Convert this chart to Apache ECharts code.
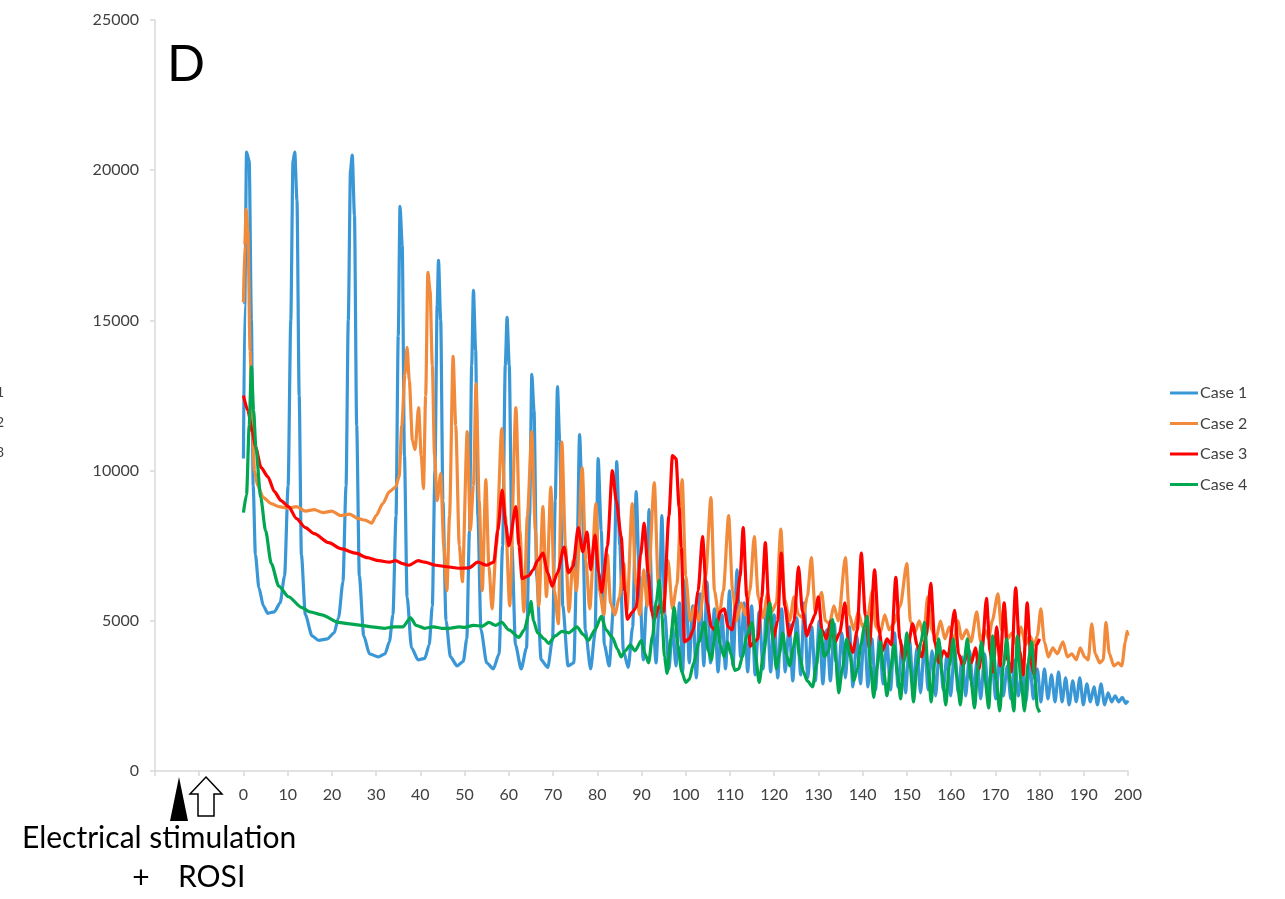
<!DOCTYPE html>
<html><head><meta charset="utf-8">
<script src="https://cdn.jsdelivr.net/npm/echarts@6/dist/echarts.min.js"></script>
<style>html,body{margin:0;padding:0;background:#fff}#c{width:1285px;height:899px}</style>
</head><body><div id="c"></div>
<script>
const seriesNames = ['Case 1','Case 2','Case 3','Case 4'];
const seriesColors = ['#3a97d6','#f28a3c','#ff0000','#00a650'];
const yTicks = [0,5000,10000,15000,20000,25000];
const xTickLabels = [0,10,20,30,40,50,60,70,80,90,100,110,120,130,140,150,160,170,180,190,200];

const case1 = [
[0,10400],[0.3,15500],[0.7,20600],[1.3,20300],[1.8,15000],[2.2,9500],[2.7,7200],[3.5,6100],[4.5,5500],[5.5,5250],[7,5300],[8.3,5600],[9.3,6500],[10.1,9500],[10.7,15000],[11.2,20300],[11.6,20600],[12.1,19000],[12.6,12500],[13.1,7200],[14,5200],[15.5,4500],[17,4350],[19,4400],[20.5,4600],[21.5,5100],[22.5,6300],[23.2,9500],[23.7,15000],[24.2,20000],[24.6,20500],[25.1,18500],[25.6,11500],[26.2,6500],[27.2,4500],[28.5,3900],[30.5,3800],[32,3900],[33,4300],[33.8,5200],[34.5,8500],[35,14500],[35.4,18800],[35.9,17500],[36.4,10500],[37,5800],[38,4100],[39.5,3700],[41,3750],[42,4200],[42.7,5500],[43.3,10000],[43.8,15500],[44.1,17000],[44.6,15000],[45.1,9000],[45.8,5000],[46.8,3800],[48.3,3500],[49.7,3650],[50.5,4400],[51.1,8000],[51.6,13500],[52,16000],[52.5,14000],[53,8500],[53.7,4700],[55,3600],[56.5,3400],[57.8,3900],[58.6,7500],[59.2,13500],[59.6,15100],[60.1,13500],[60.7,7500],[61.5,4200],[62.8,3400],[64,4100],[64.7,8500],[65.2,13200],[65.7,12000],[66.3,6500],[67.3,3700],[68.8,3450],[69.9,4400],[70.5,9000],[71,12800],[71.5,11000],[72.2,5500],[73.4,3500],[74.7,3600],[75.4,7000],[76,11200],[76.6,9000],[77.3,4700],[78.5,3400],[79.5,4600],[80.2,10400],[80.9,8000],[81.6,4200],[82.7,3500],[83.7,5500],[84.4,10300],[85.1,7500],[85.9,4000],[87,3450],[88,4800],[88.8,9300],[89.5,6500],[90.4,3700],[91.1,5500],[91.7,8700],[92.4,5500],[93.3,3600],[94,5500],[94.6,8500],[95.3,5200],[96.2,3400],
[97,4800],[97.8,3500],[98.6,5600],[99.3,3300],[100,6400],[100.8,3600],[101.6,5500],[102.4,3100],[103.3,5900],[104.1,3500],[104.8,6300],[105.6,3600],[106.5,5400],[107.3,3300],[108.2,5200],[109,3400],[109.9,6000],[110.7,3500],[111.6,6700],[112.4,3800],[113.2,5600],[114,3300],[114.9,5500],[115.7,3200],[116.6,5300],[117.5,3400],[118.3,5700],[119.2,3300],[120,5200],[120.8,3100],[121.7,5400],[122.5,3300],[123.4,4900],[124.2,3000],[125.1,5100],[126,3200],[126.8,5600],[127.6,3100],[128.5,4800],[129.3,3000],[130.2,5000],[131,2900],[131.9,4700],[132.7,3000],[133.6,4900],[134.4,2900],[135.3,4600],[136.1,3100],[137,4800],[137.8,2800],[138.7,4500],[139.5,2900],[140.4,4700],[141.2,2800],[142.1,4400],[142.9,2700],[143.8,4500],[144.6,2900],[145.5,4300],[146.3,2700],[147.2,4600],[148,2800],[148.9,4200],[149.7,2600],[150.6,4400],[151.4,2800],[152.3,4100],[153.1,2600],[154,4300],[154.8,2700],[155.7,4000],[156.5,2500],[157.4,4200],[158.2,2700],[159.1,3900],[159.9,2500],[160.8,4100],[161.6,2600],[162.5,3800],[163.3,2500],[164.2,4000],[165,2600],[165.9,3700],[166.7,2400],[167.6,3900],[168.4,2600],[169.3,3600],[170.1,2400],[171,3800],[171.8,2500],[172.7,3500],[173.5,2400],[174.4,3700],[175.2,2500],[176.1,3400],[176.9,2300],[177.8,3600],[178.6,2400],[179.5,3400],[180.3,2300],[181.1,3400],[181.9,2400],[182.7,3200],[183.5,2300],[184.3,3300],[185.1,2300],[185.9,3100],[186.7,2200],[187.5,3000],[188.3,2300],[189.1,3100],[189.9,2200],[190.7,2900],[191.5,2300],[192.3,2800],[193.1,2200],[193.9,2900],[194.7,2200],[195.5,2600],[196.3,2300],[197.1,2500],[197.9,2300],[198.7,2450],[199.5,2250],[200,2350]
];

const case2 = [
[0,15600],[0.3,17500],[0.6,18700],[1,18000],[1.5,14000],[2,11500],[2.5,10000],[3.2,9500],[4.5,9100],[6.3,8900],[8,8800],[10,8750],[12,8800],[14,8650],[16,8700],[18,8600],[20,8650],[22,8500],[24,8550],[26,8400],[27.5,8350],[29,8250],[30,8500],[31.5,8900],[33,9300],[34.4,9450],[35.2,9800],[35.8,11500],[36.5,13200],[37,14100],[37.5,13000],[38.2,11000],[38.8,10700],[39.6,12100],[40.2,10500],[40.7,9400],[41.2,12500],[41.7,16600],[42.2,16000],[42.7,13500],[43.2,10500],[43.8,9000],[44.6,9900],[45.3,7500],[46,6000],[46.6,8500],[47.4,13800],[48,11500],[48.8,7500],[49.5,6300],[50.6,11300],[51.3,8000],[52,9500],[52.6,12900],[53.3,9000],[54,6000],[54.8,9700],[55.5,6800],[56.2,5400],[57.2,7500],[58.4,11400],[59.2,8500],[60.2,5500],[61.6,12100],[62.5,8000],[63.4,5300],[64.2,8500],[65.2,11300],[66,8000],[66.8,5500],[67.7,8800],[68.5,5800],[69.5,9450],[70.3,6000],[71.2,4900],[72,10950],[72.8,7500],[73.6,5300],[74.5,7000],[75.3,6000],[76.6,10100],[77.4,7000],[78.3,5400],[79.7,8900],[80.5,6000],[81.5,5200],[82.3,7200],[83,5600],[84,5200],[85,5800],[86,6900],[86.7,5300],[87.9,8900],[88.7,6200],[89.6,5200],[90.5,6700],[91.3,5500],[92.9,9600],[93.8,6200],[94.8,5200],[96,7000],[97,5400],[98,6200],[99.2,9700],[100,6500],[101,5000],[102,5500],[103,5000],[104.5,6500],[105.7,9100],[106.5,6000],[107.5,5100],[108.5,6000],[109.7,8500],[110.6,6000],[111.5,5000],[112.5,5600],[113.5,5200],[114.5,6000],[115.5,7800],[116.4,5800],[117.5,5100],[118.5,5900],[119.5,5300],[120.5,5600],[121.5,8050],[122.4,5700],[123.5,5000],[124.5,5800],[125.5,5200],[126.5,5100],[127.5,5800],[128.4,7100],[129.3,5300],[130.7,5950],[131.6,5000],[132.5,4900],[133.5,5500],[134.5,5000],[136.1,7100],[137,5200],[138,4700],[139,5300],[140,4800],[141,5000],[142.2,6000],[143,4800],[144,4600],[145,5200],[146,4700],[147,4900],[148.5,5500],[150,6900],[150.8,5000],[151.8,4600],[152.8,5000],[153.8,4500],[154.7,5800],[155.6,4700],[156.6,4400],[157.6,5000],[158.6,4400],[159.6,4800],[160.6,4300],[161.5,5000],[162.4,4400],[163.5,4700],[164.5,4300],[165.8,5300],[166.7,4300],[167.6,4700],[168.5,4400],[169.3,5000],[170.6,5900],[171.4,4700],[172,5500],[172.8,4400],[173.8,4600],[174.8,4200],[175.8,4800],[176.8,4200],[177.8,4500],[178.8,4200],[179.5,4500],[180.3,5400],[181.1,4300],[182,3800],[183,4100],[184,3900],[185.3,4300],[186.3,3800],[187.3,3900],[188.3,3700],[189.2,4100],[190.2,3800],[191,3700],[191.8,4900],[192.6,3900],[193.6,3600],[194.4,3700],[195,4950],[195.8,3900],[196.8,3500],[197.8,3600],[198.6,3500],[199.4,4300],[199.8,4650],[200,4500]
];

const case3 = [
[0,12500],[1,12000],[2,11300],[2.7,10800],[4,10100],[5.5,9800],[7,9300],[8.5,9000],[10.2,8800],[12,8400],[14,8100],[16,7900],[19.3,7600],[22,7400],[25.4,7250],[28,7100],[30.6,7000],[33,6950],[34.4,7000],[36,6900],[37.4,6850],[39.5,7000],[41,6950],[43.5,6850],[46,6800],[48.7,6750],[51,6760],[53,6950],[55,6850],[56.6,6950],[57.5,8000],[58.5,9350],[59.3,8200],[60,7500],[61.6,8800],[62.3,7500],[63,6400],[64.5,6500],[65.5,6700],[66.5,7000],[67.7,7250],[68.8,6600],[69.8,6150],[71,6600],[72.5,7450],[73.5,6600],[74.5,6800],[75.7,8100],[76.7,7300],[77.7,7950],[78.5,6700],[79.5,7850],[80.3,6600],[81,5950],[82.3,7500],[83.4,10000],[84.3,9000],[85.4,7800],[86.2,6000],[86.8,5050],[88,5300],[88.8,5450],[89.8,7200],[90.6,8250],[91.5,6600],[92.3,5300],[92.9,5050],[94,5500],[95,5300],[96.2,8500],[97,10500],[97.8,10400],[98.5,8800],[99,7450],[99.7,4300],[100.8,4400],[101.7,4700],[102.8,6000],[103.8,7800],[104.8,5600],[105.8,4800],[106.8,4650],[107.8,5300],[108.7,5400],[109.6,4800],[110.5,4700],[111.5,5600],[112.3,6500],[113,8100],[113.8,5800],[114.6,4150],[115.5,4300],[116.3,4400],[117.2,5800],[118,7600],[118.8,5500],[119.8,4400],[120.8,5000],[121.6,7250],[122.4,5500],[123.4,4500],[124.5,5000],[125.5,6800],[126.4,5300],[127.4,4500],[128.3,4900],[129.2,5200],[130,5800],[130.8,4700],[131.8,4400],[132.8,5000],[133.8,4300],[134.8,4600],[136,5600],[136.8,4300],[137.8,3950],[138.8,4700],[139.7,7250],[140.6,5200],[141.5,4100],[142.7,6700],[143.6,4800],[144.5,4000],[145.5,4400],[146.5,4200],[147.5,6450],[148.4,4400],[149.3,3700],[150.3,4200],[151.3,4900],[152.3,4200],[153.3,3800],[154.4,4500],[155.4,6250],[156.3,4300],[157.3,3600],[158.3,4000],[159.3,3800],[160.8,5350],[161.7,3900],[162.7,3500],[163.7,3900],[164.6,3600],[165.5,4100],[166.3,3400],[167,4000],[168,5750],[168.8,4000],[169.5,3300],[170.3,4800],[171.1,3500],[172,5600],[172.8,3700],[173.6,3300],[174.6,6100],[175.5,4000],[176.3,3200],[177.2,5600],[178.1,3600],[178.8,3200],[179.3,4200],[180,4400]
];

const case4 = [
[0,8600],[0.7,9200],[1.3,11500],[1.8,13450],[2.3,12000],[2.8,10800],[3.9,9100],[5,8000],[6.3,6900],[8,6150],[10.2,5800],[13.1,5450],[15,5300],[17.7,5200],[21.5,4950],[24,4900],[26.7,4850],[29,4800],[32,4750],[34,4800],[36,4800],[37.8,5100],[39,4850],[41,4750],[43,4800],[44.8,4750],[46.5,4750],[48.7,4800],[50,4780],[52,4850],[54,4820],[55.5,4950],[57,4850],[58.4,4950],[60,4700],[62.3,4450],[63.5,4700],[64.5,5200],[65,5650],[65.6,5000],[66.5,4600],[68,4400],[69,4250],[70.5,4500],[72,4650],[73.5,4600],[75.4,4800],[76.8,4550],[78,4350],[79.5,4700],[80.9,5150],[82,4700],[83.4,4450],[84.6,4050],[85.4,3800],[86.3,4000],[87.5,4200],[88.5,4000],[90,4350],[90.8,3900],[91.6,3600],[92.5,4500],[93.4,5700],[94,6350],[94.6,5200],[95.2,3800],[95.8,3250],[96.6,4400],[97.4,5450],[98.2,4200],[99.1,3300],[100,2950],[100.8,3050],[101.8,3600],[103,4300],[104.2,4950],[105.1,4000],[105.8,3700],[106.4,4300],[107,5050],[107.8,4200],[108.7,3800],[109.5,4300],[110.2,3900],[111.1,3350],[112,3400],[112.8,3800],[113.8,4500],[115,4950],[115.8,3800],[116.6,2950],[117.6,3900],[119,5600],[119.8,4300],[120.5,3400],[121.2,3900],[121.9,4600],[122.7,3900],[123.5,3500],[124.3,4100],[125,4600],[125.8,3800],[126.6,3300],[127.5,3000],[128.7,2800],[129.5,3500],[130.5,4700],[131.3,3800],[132.3,4000],[133.2,5050],[134,3600],[134.6,2600],[135.4,3400],[136.4,4400],[137.2,3800],[138,3000],[138.8,3400],[139.6,4200],[140.4,4800],[141,5150],[141.8,3500],[142.5,2450],[143.2,3400],[144,4300],[144.8,3300],[145.5,2500],[146.3,3400],[147.1,4200],[147.9,3200],[148.6,2400],[149.3,3600],[150,4600],[150.8,3400],[151.5,2300],[152.3,3500],[153.2,4300],[154,4950],[154.8,3400],[155.5,2300],[156.3,3600],[157.2,4400],[158,3200],[158.8,2200],[159.6,3500],[160.5,4400],[161.3,3100],[162.1,2200],[162.9,3600],[163.7,4400],[164.5,3000],[165.3,2100],[166.1,3500],[166.9,4300],[167.7,3000],[168.5,2100],[169.4,4500],[170.2,3000],[171,2000],[171.8,3500],[172.6,4400],[173.4,2900],[174.2,2000],[175,4500],[175.8,3000],[176.6,2000],[177.4,3600],[178.2,4300],[179,3000],[179.5,2100],[180,1950]
];

const allData = [case1, case2, case3, case4];
const FONT = 'Lato';

const chart = echarts.init(document.getElementById('c'), null, {renderer:'canvas'});
chart.setOption({
  animation: false,
  backgroundColor: '#ffffff',
  grid: {left: 155, right: 157, top: 20, bottom: 128, containLabel: false},
  xAxis: {
    type: 'value', min: -20, max: 200, interval: 10,
    axisLine: {show: true, onZero: false, lineStyle: {color: '#d9d9d9', width: 1.5}},
    axisTick: {show: true, length: 5, lineStyle: {color: '#d9d9d9', width: 1.5}},
    splitLine: {show: false},
    axisLabel: {
      margin: 16, color: '#404040', fontFamily: FONT, fontSize: 16,
      formatter: v => (xTickLabels.indexOf(v) >= 0 ? String(v) : '')
    }
  },
  yAxis: {
    type: 'value', min: yTicks[0], max: yTicks[yTicks.length-1], interval: 5000,
    axisLine: {show: true, onZero: false, lineStyle: {color: '#d9d9d9', width: 1.5}},
    axisTick: {show: true, length: 5, lineStyle: {color: '#d9d9d9', width: 1.5}},
    splitLine: {show: false},
    axisLabel: {margin: 16, color: '#404040', fontFamily: FONT, fontSize: 16, formatter: v => String(v)}
  },
  legend: {
    orient: 'vertical', left: 1170, top: 385, padding: 0,
    itemWidth: 28, itemHeight: 3, itemGap: 14.5,
    icon: 'rect',
    textStyle: {fontFamily: FONT, fontSize: 16, color: '#404040', padding: [0,0,0,-3]},
    data: seriesNames
  },
  series: allData.map((d, i) => ({
    name: seriesNames[i], type: 'line', data: d,
    showSymbol: false, symbol: 'none',
    smooth: 0.25, smoothMonotone: 'x',
    lineStyle: {color: seriesColors[i], width: 3.2},
    itemStyle: {color: seriesColors[i]},
    z: 2 + i
  })),
  graphic: [
    {type: 'text', left: 167, top: 40, style: {text: 'D', font: '50px ' + FONT, fill: '#000'}},
    {type: 'text', x: 4, y: 392, style: {text: '1', font: '14px ' + FONT, fill: '#404040', textAlign: 'right', textVerticalAlign: 'middle'}},
    {type: 'text', x: 4, y: 422, style: {text: '2', font: '14px ' + FONT, fill: '#404040', textAlign: 'right', textVerticalAlign: 'middle'}},
    {type: 'text', x: 4, y: 452, style: {text: '3', font: '14px ' + FONT, fill: '#404040', textAlign: 'right', textVerticalAlign: 'middle'}},
    {type: 'polygon', shape: {points: [[179,777],[170,821],[188,821]]}, style: {fill: '#000'}},
    {type: 'polygon', shape: {points: [[206,777],[222,794],[214,794],[214,816],[198,816],[198,794],[190,794]]}, style: {fill: '#fff', stroke: '#000', lineWidth: 1.5}},
    {type: 'text', x: 22, y: 838, style: {text: 'Electrical stimulation', font: '30px ' + FONT, fill: '#000', textVerticalAlign: 'middle'}},
    {type: 'text', x: 141, y: 878, style: {text: '+', font: '30px ' + FONT, fill: '#000', textAlign: 'center', textVerticalAlign: 'middle'}},
    {type: 'text', x: 178, y: 877, style: {text: 'ROSI', font: '30px ' + FONT, fill: '#000', textVerticalAlign: 'middle'}}
  ]
});
</script></body></html>
